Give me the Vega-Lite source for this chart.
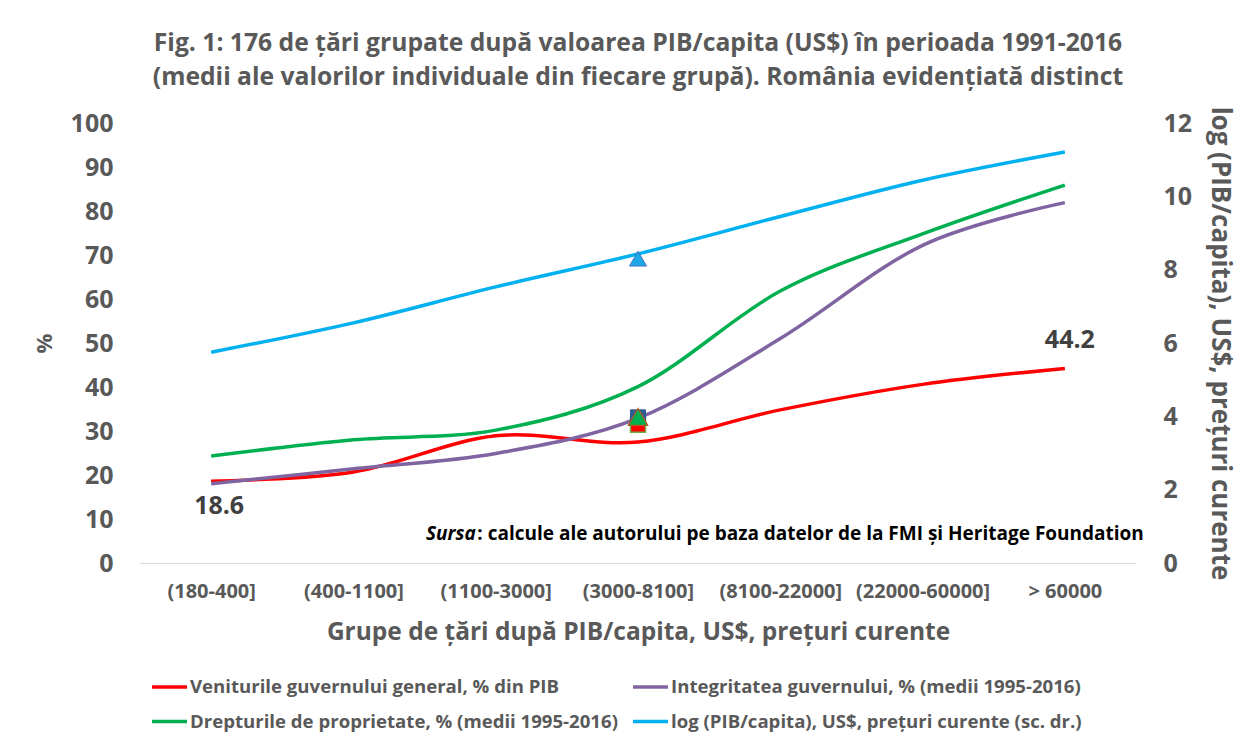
{
  "$schema": "https://vega.github.io/schema/vega-lite/v6.json",
  "width": 996,
  "height": 440,
  "autosize": {"type": "none"},
  "padding": {"left": 140, "top": 123, "right": 108, "bottom": 177},
  "background": "white",
  "config": {
    "font": "Open Sans",
    "view": {"stroke": null},
    "title": {"font": "Open Sans"},
    "axis": {"labelFont": "Open Sans", "titleFont": "Open Sans"},
    "legend": {"labelFont": "Open Sans"}
  },
  "title": {
    "text": [
      "Fig. 1: 176 de țări grupate după valoarea PIB/capita (US$) în perioada 1991-2016",
      "(medii ale valorilor individuale din fiecare grupă). România evidențiată distinct"
    ],
    "anchor": "middle",
    "fontSize": 24.7,
    "fontWeight": "bold",
    "color": "#595959",
    "lineHeight": 34,
    "offset": 16
  },
  "datasets": {
    "serii": [
      {"grupa": "(180-400]", "serie": "Veniturile guvernului general, % din PIB", "valoare": 18.6},
      {"grupa": "(400-1100]", "serie": "Veniturile guvernului general, % din PIB", "valoare": 20.7},
      {"grupa": "(1100-3000]", "serie": "Veniturile guvernului general, % din PIB", "valoare": 28.9},
      {"grupa": "(3000-8100]", "serie": "Veniturile guvernului general, % din PIB", "valoare": 27.5},
      {"grupa": "(8100-22000]", "serie": "Veniturile guvernului general, % din PIB", "valoare": 34.8},
      {"grupa": "(22000-60000]", "serie": "Veniturile guvernului general, % din PIB", "valoare": 40.6},
      {"grupa": "> 60000", "serie": "Veniturile guvernului general, % din PIB", "valoare": 44.2},
      {"grupa": "(180-400]", "serie": "Integritatea guvernului, % (medii 1995-2016)", "valoare": 18.0},
      {"grupa": "(400-1100]", "serie": "Integritatea guvernului, % (medii 1995-2016)", "valoare": 21.4},
      {"grupa": "(1100-3000]", "serie": "Integritatea guvernului, % (medii 1995-2016)", "valoare": 24.9},
      {"grupa": "(3000-8100]", "serie": "Integritatea guvernului, % (medii 1995-2016)", "valoare": 32.9},
      {"grupa": "(8100-22000]", "serie": "Integritatea guvernului, % (medii 1995-2016)", "valoare": 51.0},
      {"grupa": "(22000-60000]", "serie": "Integritatea guvernului, % (medii 1995-2016)", "valoare": 72.2},
      {"grupa": "> 60000", "serie": "Integritatea guvernului, % (medii 1995-2016)", "valoare": 81.9},
      {"grupa": "(180-400]", "serie": "Drepturile de proprietate, % (medii 1995-2016)", "valoare": 24.3},
      {"grupa": "(400-1100]", "serie": "Drepturile de proprietate, % (medii 1995-2016)", "valoare": 28.0},
      {"grupa": "(1100-3000]", "serie": "Drepturile de proprietate, % (medii 1995-2016)", "valoare": 30.2},
      {"grupa": "(3000-8100]", "serie": "Drepturile de proprietate, % (medii 1995-2016)", "valoare": 40.1},
      {"grupa": "(8100-22000]", "serie": "Drepturile de proprietate, % (medii 1995-2016)", "valoare": 61.8},
      {"grupa": "(22000-60000]", "serie": "Drepturile de proprietate, % (medii 1995-2016)", "valoare": 74.8},
      {"grupa": "> 60000", "serie": "Drepturile de proprietate, % (medii 1995-2016)", "valoare": 85.9},
      {"grupa": "(180-400]", "serie": "log (PIB/capita), US$, prețuri curente (sc. dr.)", "valoare": 5.75},
      {"grupa": "(400-1100]", "serie": "log (PIB/capita), US$, prețuri curente (sc. dr.)", "valoare": 6.55},
      {"grupa": "(1100-3000]", "serie": "log (PIB/capita), US$, prețuri curente (sc. dr.)", "valoare": 7.53},
      {"grupa": "(3000-8100]", "serie": "log (PIB/capita), US$, prețuri curente (sc. dr.)", "valoare": 8.43},
      {"grupa": "(8100-22000]", "serie": "log (PIB/capita), US$, prețuri curente (sc. dr.)", "valoare": 9.45},
      {"grupa": "(22000-60000]", "serie": "log (PIB/capita), US$, prețuri curente (sc. dr.)", "valoare": 10.44},
      {"grupa": "> 60000", "serie": "log (PIB/capita), US$, prețuri curente (sc. dr.)", "valoare": 11.21}
    ],
    "romania": [
      {"grupa": "(3000-8100]", "serie": "Integritatea guvernului, % (medii 1995-2016)", "valoare": 33.1},
      {"grupa": "(3000-8100]", "serie": "Veniturile guvernului general, % din PIB", "valoare": 31.4},
      {"grupa": "(3000-8100]", "serie": "Drepturile de proprietate, % (medii 1995-2016)", "valoare": 33.2},
      {"grupa": "(3000-8100]", "serie": "log (PIB/capita), US$, prețuri curente (sc. dr.)", "valoare": 8.3}
    ],
    "nota": [
      {"eticheta": "Sursa", "descriere": ": calcule ale autorului pe baza datelor de la FMI și Heritage Foundation"}
    ]
  },
  "layer": [
    {
      "layer": [
        {
          "data": {"name": "serii"},
          "transform": [{"filter": "datum.serie !== 'log (PIB/capita), US$, prețuri curente (sc. dr.)'"}],
          "mark": {"type": "line", "interpolate": "cardinal", "tension": 0, "strokeWidth": 3.5},
          "encoding": {
            "x": {
              "field": "grupa",
              "type": "ordinal",
              "scale": {"type": "point", "padding": 0.5, "domain": ["(180-400]", "(400-1100]", "(1100-3000]", "(3000-8100]", "(8100-22000]", "(22000-60000]", "> 60000"]},
              "axis": {
                "title": "Grupe de țări după PIB/capita, US$, prețuri curente",
                "titleFontSize": 24.5,
                "titleFontWeight": "bold",
                "titleColor": "#595959",
                "titlePadding": 19,
                "labelAngle": 0,
                "labelFontSize": 20,
                "labelFontWeight": "bold",
                "labelColor": "#595959",
                "labelPadding": 18,
                "ticks": false,
                "domainColor": "#D9D9D9",
                "domainWidth": 1,
                "grid": false
              }
            },
            "y": {
              "field": "valoare",
              "type": "quantitative",
              "scale": {"domain": [0, 100], "nice": false},
              "axis": {
                "title": "%",
                "titleFontSize": 22,
                "titleFontWeight": "bold",
                "titleColor": "#595959",
                "titlePadding": 14,
                "values": [0, 10, 20, 30, 40, 50, 60, 70, 80, 90, 100],
                "labelFontSize": 25,
                "labelFontWeight": "bold",
                "labelColor": "#595959",
                "labelPadding": 27,
                "ticks": false,
                "domain": false,
                "grid": false
              }
            },
            "color": {
              "field": "serie",
              "type": "nominal",
              "scale": {
                "domain": ["Veniturile guvernului general, % din PIB", "Integritatea guvernului, % (medii 1995-2016)", "Drepturile de proprietate, % (medii 1995-2016)", "log (PIB/capita), US$, prețuri curente (sc. dr.)"],
                "range": ["#FF0000", "#8064A2", "#00B050", "#00B0F0"]
              },
              "legend": {
                "title": null,
                "orient": "none",
                "legendX": 10,
                "legendY": 544,
                "direction": "horizontal",
                "columns": 2,
                "columnPadding": 8,
                "rowPadding": 5,
                "symbolType": "stroke",
                "symbolSize": 1225,
                "symbolStrokeWidth": 3.5,
                "labelFontSize": 18.6,
                "labelFontWeight": "bold",
                "labelColor": "#595959",
                "labelOffset": 1,
                "labelLimit": 600
              }
            },
            "detail": {"field": "serie"}
          }
        },
        {
          "data": {"name": "romania"},
          "transform": [{"filter": "datum.serie === 'Veniturile guvernului general, % din PIB'"}],
          "mark": {"type": "point", "shape": "square", "filled": true, "size": 225, "fill": "#FF0000", "stroke": "#70AD47", "strokeWidth": 1.5, "opacity": 1},
          "encoding": {
            "x": {"field": "grupa", "type": "ordinal"},
            "y": {"field": "valoare", "type": "quantitative"}
          }
        },
        {
          "data": {"name": "romania"},
          "transform": [{"filter": "datum.serie === 'Integritatea guvernului, % (medii 1995-2016)'"}],
          "mark": {"type": "point", "shape": "square", "filled": true, "size": 225, "fill": "#2E5E8E", "stroke": "#2F5597", "strokeWidth": 1, "opacity": 1},
          "encoding": {
            "x": {"field": "grupa", "type": "ordinal"},
            "y": {"field": "valoare", "type": "quantitative"}
          }
        },
        {
          "data": {"name": "romania"},
          "transform": [{"filter": "datum.serie === 'Drepturile de proprietate, % (medii 1995-2016)'"}],
          "mark": {"type": "point", "shape": "triangle-up", "filled": true, "size": 380, "fill": "#00B050", "stroke": "#B35A1F", "strokeWidth": 1.2, "opacity": 1},
          "encoding": {
            "x": {"field": "grupa", "type": "ordinal"},
            "y": {"field": "valoare", "type": "quantitative"}
          }
        },
        {
          "data": {"name": "serii"},
          "transform": [{"filter": "datum.serie === 'Veniturile guvernului general, % din PIB' && datum.grupa === '(180-400]'"}],
          "mark": {"type": "text", "fontSize": 25, "fontWeight": "bold", "color": "#404040", "dx": 8, "dy": 25},
          "encoding": {
            "x": {"field": "grupa", "type": "ordinal"},
            "y": {"field": "valoare", "type": "quantitative"},
            "text": {"field": "valoare", "type": "quantitative", "format": ".1f"}
          }
        },
        {
          "data": {"name": "serii"},
          "transform": [{"filter": "datum.serie === 'Veniturile guvernului general, % din PIB' && datum.grupa === '> 60000'"}],
          "mark": {"type": "text", "fontSize": 25, "fontWeight": "bold", "color": "#404040", "dx": 5, "dy": -29},
          "encoding": {
            "x": {"field": "grupa", "type": "ordinal"},
            "y": {"field": "valoare", "type": "quantitative"},
            "text": {"field": "valoare", "type": "quantitative", "format": ".1f"}
          }
        },
        {
          "data": {"name": "nota"},
          "mark": {"type": "text", "fontSize": 19, "fontWeight": "bold", "color": "#000000", "align": "right", "baseline": "middle", "dx": 79},
          "encoding": {
            "x": {"datum": "> 60000", "type": "ordinal"},
            "y": {"datum": 6.6, "type": "quantitative"},
            "text": {"field": "descriere", "type": "nominal"}
          }
        },
        {
          "data": {"name": "nota"},
          "mark": {"type": "text", "fontSize": 19, "fontWeight": "bold", "fontStyle": "italic", "color": "#000000", "align": "right", "baseline": "middle", "dx": -589},
          "encoding": {
            "x": {"datum": "> 60000", "type": "ordinal"},
            "y": {"datum": 6.6, "type": "quantitative"},
            "text": {"field": "eticheta", "type": "nominal"}
          }
        }
      ]
    },
    {
      "layer": [
        {
          "data": {"name": "serii"},
          "transform": [{"filter": "datum.serie === 'log (PIB/capita), US$, prețuri curente (sc. dr.)'"}],
          "mark": {"type": "line", "interpolate": "cardinal", "tension": 0, "strokeWidth": 3.5},
          "encoding": {
            "x": {"field": "grupa", "type": "ordinal"},
            "y": {
              "field": "valoare",
              "type": "quantitative",
              "scale": {"domain": [0, 12], "nice": false},
              "axis": {
                "orient": "right",
                "title": "log (PIB/capita), US$, prețuri curente",
                "titleFontSize": 26,
                "titleFontWeight": "bold",
                "titleColor": "#595959",
                "titlePadding": 15,
                "values": [0, 2, 4, 6, 8, 10, 12],
                "labelFontSize": 25,
                "labelFontWeight": "bold",
                "labelColor": "#595959",
                "labelPadding": 27,
                "ticks": false,
                "domain": false,
                "grid": false
              }
            },
            "color": {
              "field": "serie",
              "type": "nominal",
              "scale": {
                "domain": ["Veniturile guvernului general, % din PIB", "Integritatea guvernului, % (medii 1995-2016)", "Drepturile de proprietate, % (medii 1995-2016)", "log (PIB/capita), US$, prețuri curente (sc. dr.)"],
                "range": ["#FF0000", "#8064A2", "#00B050", "#00B0F0"]
              }
            }
          }
        },
        {
          "data": {"name": "romania"},
          "transform": [{"filter": "datum.serie === 'log (PIB/capita), US$, prețuri curente (sc. dr.)'"}],
          "mark": {"type": "point", "shape": "triangle-up", "filled": true, "size": 290, "fill": "#1CA8E6", "stroke": "#4472C4", "strokeWidth": 1, "opacity": 1},
          "encoding": {
            "x": {"field": "grupa", "type": "ordinal"},
            "y": {"field": "valoare", "type": "quantitative"}
          }
        }
      ]
    }
  ],
  "resolve": {"scale": {"y": "independent"}, "axis": {"y": "independent"}}
}
